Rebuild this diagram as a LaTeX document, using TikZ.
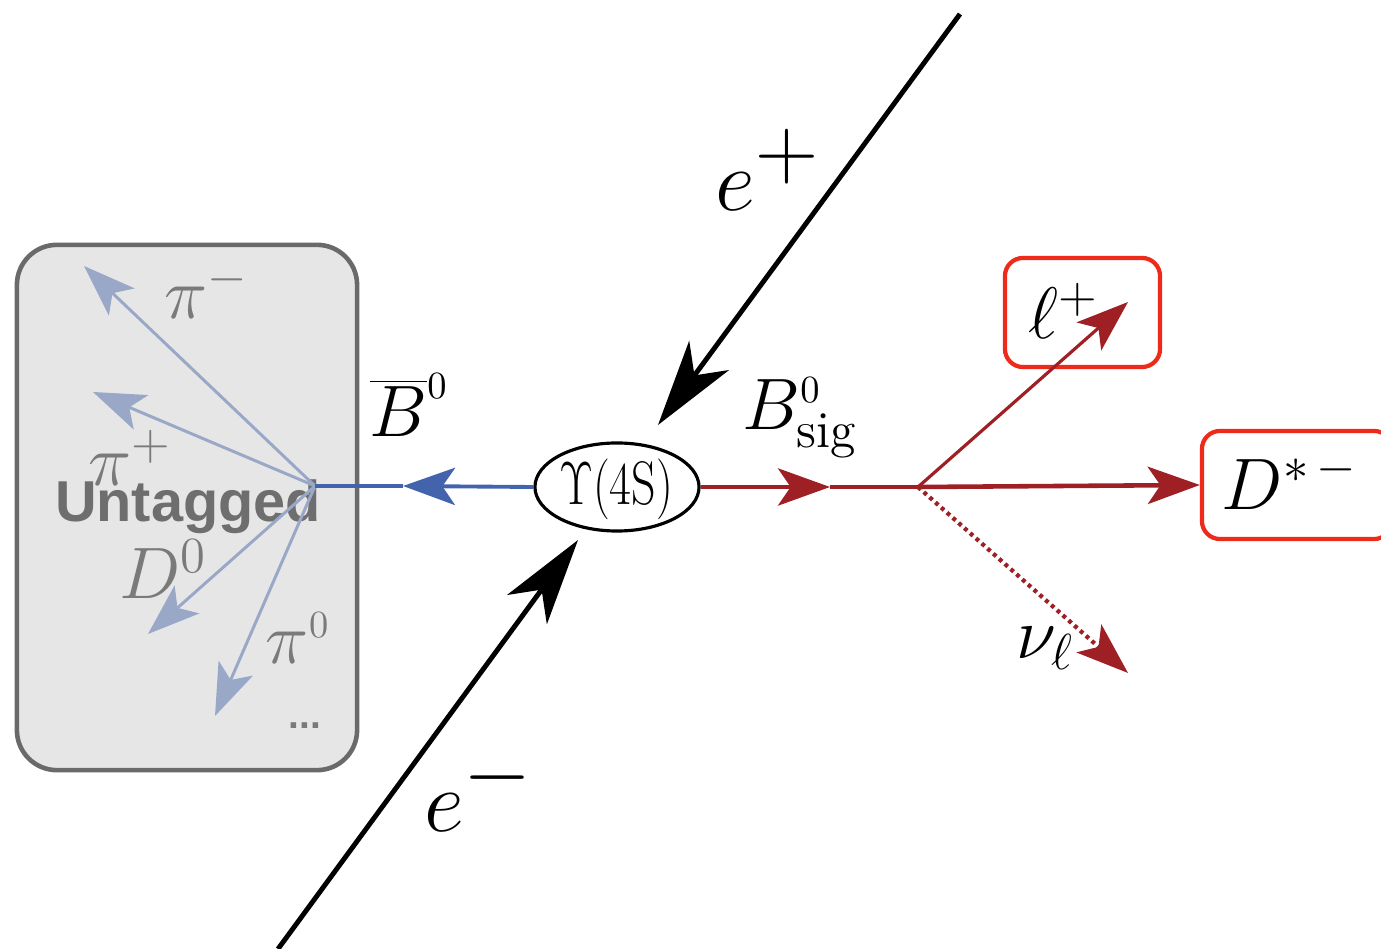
\documentclass[tikz,border=0pt]{standalone}
\usepackage{fontspec}
\newfontfamily\untagfont{Liberation Sans}
\usetikzlibrary{arrows.meta,shapes.geometric}
\definecolor{boxgray}{HTML}{E6E6E6}
\definecolor{boxedge}{HTML}{6A6A6A}
\definecolor{pionblue}{HTML}{9AA8C8}
\definecolor{mainblue}{HTML}{4363AD}
\definecolor{darkred}{HTML}{9E1F24}
\definecolor{brightred}{HTML}{EE2B1B}
\definecolor{labelgray}{HTML}{7A7A7A}
\definecolor{untaggray}{HTML}{6E6E6E}
\begin{document}
\begin{tikzpicture}[x=0.01cm,y=-0.01cm,
  midtip/.style={-{Stealth[length=14.8pt,width=10.6pt,inset=3.6pt]}},
  bigtip/.style={-{Stealth[length=24.5pt,width=14pt,inset=7pt]}},
  beam/.style={line width=1.4pt,black,bigtip},
  blueline/.style={line width=1.1pt,mainblue},
  redline/.style={line width=1.1pt,darkred},
  pionline/.style={line width=0.85pt,pionblue,midtip},
  graybox/.style={draw=boxedge,fill=boxgray,line width=1.3pt,rounded corners=0.4cm,minimum width=3.4cm,minimum height=5.25cm,inner sep=0pt},
  redbox/.style={draw=brightred,line width=1.2pt,rounded corners=0.18cm,inner sep=0pt},
  pionlabel/.style={text=labelgray,inner sep=0pt,font=\fontsize{22}{26}\selectfont},
  biglabel/.style={inner sep=0pt,font=\fontsize{34}{40}\selectfont},
  blabel/.style={inner sep=0pt,font=\fontsize{21}{25}\selectfont}
]
\useasboundingbox (0,0) rectangle (1381,949);
\clip (0,0) rectangle (1381,949);

% untagged side box
\node[graybox] (ubox) at (187,507.5) {};
\node[anchor=base,inner sep=0pt,text=untaggray,font=\untagfont\bfseries\fontsize{16.4}{19}\selectfont] (ulabel) at (188,522) {Untagged};
\node[inner sep=0pt,text=labelgray,font=\untagfont\bfseries\fontsize{11}{13}\selectfont] (udots) at (305,726) {...};

% pion labels
\node[pionlabel] (pimlabel) at (207,291) {$\pi^{-}$};
\node[pionlabel] (piplabel) at (130,458) {$\pi^{+}$};
\node[pionlabel,font=\fontsize{20}{24}\selectfont] (d0label) at (163,569) {$D^{0}$};
\node[pionlabel] (pi0label) at (298,638) {$\pi^{\scriptscriptstyle 0}$};

% vertices and tips
\coordinate (vL) at (315,486);
\coordinate (pimtip) at (84,266);
\coordinate (piptip) at (93,392);
\coordinate (d0tip) at (148,634);
\coordinate (pi0tip) at (215,716);

\draw[pionline] (vL) -- (pimtip);
\draw[pionline] (vL) -- (piptip);
\draw[pionline] (vL) -- (d0tip);
\draw[pionline] (vL) -- (pi0tip);

% Upsilon
\node[draw,ellipse,line width=0.9pt,minimum width=1.64cm,minimum height=0.88cm,inner sep=0pt] (ups) at (617,487) {};
\node[inner sep=0pt,font=\fontsize{17.5}{21}\selectfont] (upslabel) at (616,489) {\scalebox{0.78}[1]{$\Upsilon(4\mathrm{S})$}};

% B bar side
\coordinate (bmid) at (403,486);
\draw[blueline,midtip] (ups.west) -- (bmid);
\draw[blueline] (bmid) -- (vL);
\node[blabel] (bbarlabel) at (409,405) {$\overline{B}^{\scriptscriptstyle 0}$};

% B sig side
\coordinate (rmid) at (830,487);
\coordinate (vR) at (918,487);
\draw[redline,midtip] (ups.east) -- (rmid);
\draw[redline] (rmid) -- (vR);
\node[blabel] (bsiglabel) at (800,418) {$B^{\scriptscriptstyle 0}_{\mathrm{sig}}$};

% red boxes
\node[redbox,minimum width=1.55cm,minimum height=1.09cm] (lbox) at (1082.5,312.5) {};
\node[inner sep=0pt,font=\fontsize{22}{26}\selectfont] (llabel) at (1064,311) {$\ell^{+}$};
\node[redbox,minimum width=1.9cm,minimum height=1.08cm] (dbox) at (1297,485) {};
\node[inner sep=0pt,font=\fontsize{22}{26}\selectfont] (dlabel) at (1290,481) {$D^{*\,-}$};

% decay products
\coordinate (ltip) at (1128,302);
\coordinate (nutip) at (1128,673);
\draw[line width=0.9pt,darkred,midtip] (vR) -- (ltip);
\draw[line width=1.3pt,darkred,midtip] (vR) -- (dbox.west);
\draw[line width=1.2pt,darkred,dash pattern=on 1.1pt off 1.1pt,midtip] (vR) -- (nutip);
\node[inner sep=0pt,font=\fontsize{20}{24}\selectfont] (nulabel) at (1045,648) {$\nu_{\ell}$};

% beams
\coordinate (epstart) at (960,14);
\coordinate (eptip) at (658,425);
\coordinate (emstart) at (278,949);
\coordinate (emtip) at (578,540);
\draw[beam] (epstart) -- (eptip);
\draw[beam] (emstart) -- (emtip);
\node[biglabel] (eplabel) at (768,170) {$e^{+}$};
\node[biglabel] (emlabel) at (479,790) {$e^{-}$};
\end{tikzpicture}
\end{document}
